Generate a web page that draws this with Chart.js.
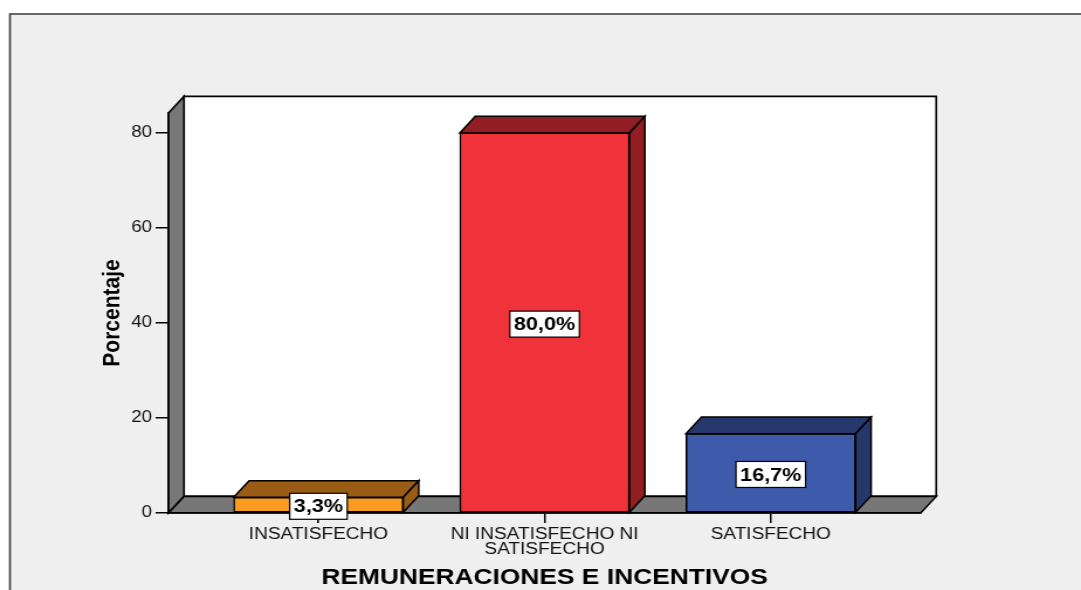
<!DOCTYPE html>
<html lang="es">
<head>
    <meta charset="UTF-8">
    <title>Remuneraciones e incentivos</title>
    <script src="https://cdn.jsdelivr.net/npm/chart.js"></script>
    <style>
        html, body { margin: 0; padding: 0; background: #fff; overflow: hidden; }
        /* the original picture is stretched horizontally, so the chart is too */
        #wrap { width: 924px; height: 590px; transform: scaleX(1.16991); transform-origin: 0 0; }
        canvas { display: block; }
    </style>
</head>
<body>
    <div id="wrap">
        <canvas id="chart" width="924" height="590"></canvas>
    </div>

    <script>
        // Data
        const categories = [['INSATISFECHO'], ['NI INSATISFECHO NI', 'SATISFECHO'], ['SATISFECHO']];
        const percentages = [3.3, 80.0, 16.7];
        const yTicks = [0, 20, 40, 60, 80];
        const yMax = 84.2;

        const frontColors = ['#F99B1E', '#F0333B', '#3E5AAA'];
        const sideColors = ['#9A5C14', '#911E23', '#26376B'];
        const DEPTH = { dx: 13.25, dy: -16.6 };
        const FONT = '"Liberation Sans", Arial, sans-serif';

        Chart.defaults.font.family = FONT;
        Chart.defaults.color = '#111';

        function polygon(ctx, pts, fill) {
            ctx.beginPath();
            ctx.moveTo(pts[0][0], pts[0][1]);
            for (let i = 1; i < pts.length; i++) ctx.lineTo(pts[i][0], pts[i][1]);
            ctx.closePath();
            ctx.fillStyle = fill;
            ctx.fill();
            ctx.stroke();
        }

        // frame, back wall, left wall and floor
        const walls = {
            id: 'walls',
            beforeDraw(chart) {
                const ctx = chart.ctx;
                const a = chart.chartArea;
                const { dx, dy } = DEPTH;
                ctx.save();
                ctx.fillStyle = '#fff';
                ctx.fillRect(0, 0, chart.width, chart.height);
                ctx.fillStyle = '#EFEFEF';
                ctx.fillRect(8.5, 14, chart.width, chart.height);
                ctx.strokeStyle = '#3a3a3a';
                ctx.lineWidth = 1.6;
                ctx.beginPath();
                ctx.moveTo(8.5, chart.height);
                ctx.lineTo(8.5, 14);
                ctx.lineTo(chart.width, 14);
                ctx.stroke();

                ctx.strokeStyle = '#000';
                ctx.lineWidth = 1.6;
                ctx.lineJoin = 'miter';
                polygon(ctx, [[a.left + dx, a.top + dy], [a.right + dx, a.top + dy],
                              [a.right + dx, a.bottom + dy], [a.left + dx, a.bottom + dy]], '#fff');
                polygon(ctx, [[a.left, a.top], [a.left + dx, a.top + dy],
                              [a.left + dx, a.bottom + dy], [a.left, a.bottom]], '#777777');
                polygon(ctx, [[a.left, a.bottom], [a.left + dx, a.bottom + dy],
                              [a.right + dx, a.bottom + dy], [a.right, a.bottom]], '#777777');
                ctx.restore();
            }
        };

        // bar tops, sides and value boxes
        const bars3d = {
            id: 'bars3d',
            afterDatasetsDraw(chart) {
                const ctx = chart.ctx;
                const { dx, dy } = DEPTH;
                const meta = chart.getDatasetMeta(0);
                ctx.save();
                ctx.strokeStyle = '#000';
                ctx.lineWidth = 1.5;
                ctx.lineJoin = 'miter';
                meta.data.forEach((bar, i) => {
                    const { x, y, base, width } = bar.getProps(['x', 'y', 'base', 'width'], true);
                    const l = x - width / 2, r = x + width / 2;
                    polygon(ctx, [[l, y], [l + dx, y + dy], [r + dx, y + dy], [r, y]], sideColors[i]);
                    polygon(ctx, [[r, y], [r + dx, y + dy], [r + dx, base + dy], [r, base]], sideColors[i]);
                });

                ctx.font = 'bold 18.5px ' + FONT;
                ctx.textAlign = 'center';
                ctx.textBaseline = 'middle';
                meta.data.forEach((bar, i) => {
                    const { x, y, base } = bar.getProps(['x', 'y', 'base'], true);
                    const text = percentages[i].toFixed(1).replace('.', ',') + '%';
                    const cy = (y + base) / 2 + 1.5;
                    const w = ctx.measureText(text).width + 7;
                    const h = 26;
                    ctx.fillStyle = '#fff';
                    ctx.fillRect(x - w / 2, cy - h / 2, w, h);
                    ctx.lineWidth = 1.2;
                    ctx.strokeRect(x - w / 2, cy - h / 2, w, h);
                    ctx.fillStyle = '#000';
                    ctx.fillText(text, x, cy + 1);
                });
                ctx.restore();
            }
        };

        new Chart(document.getElementById('chart'), {
            type: 'bar',
            data: {
                datasets: [{
                    data: percentages.map((v, i) => ({ x: i, y: v })),
                    backgroundColor: frontColors,
                    borderColor: '#000',
                    borderWidth: 1.5,
                    borderSkipped: false,
                    barThickness: 145
                }]
            },
            options: {
                responsive: false,
                animation: false,
                devicePixelRatio: 1,
                layout: { padding: { left: 0, top: 113, right: 137, bottom: 0 } },
                plugins: { legend: { display: false }, tooltip: { enabled: false } },
                scales: {
                    x: {
                        type: 'linear',
                        offset: false,
                        min: -0.663,
                        max: 2.663,
                        afterBuildTicks: (scale) => { scale.ticks = categories.map((_, i) => ({ value: i })); },
                        afterFit: (scale) => { scale.height = 77; },
                        ticks: {
                            callback: (v) => categories[v],
                            font: { size: 16.3, lineHeight: 0.94 },
                            padding: 4,
                            maxRotation: 0,
                            autoSkip: false,
                            color: '#111'
                        },
                        grid: { offset: false, drawOnChartArea: false, drawTicks: true, tickLength: 10, color: '#000', lineWidth: 1.5 },
                        border: { display: true, color: '#000', width: 1.5 },
                        title: {
                            display: true,
                            text: 'REMUNERACIONES E INCENTIVOS',
                            font: { size: 22.5, weight: 'bold', lineHeight: 1 },
                            padding: { top: 0, bottom: 1 },
                            color: '#000'
                        }
                    },
                    y: {
                        min: 0,
                        max: yMax,
                        afterBuildTicks: (scale) => { scale.ticks = yTicks.map(v => ({ value: v })); },
                        afterFit: (scale) => { scale.width = 144; },
                        ticks: { font: { size: 16 }, padding: 3, color: '#111' },
                        grid: { drawOnChartArea: false, drawTicks: true, tickLength: 11, color: '#000', lineWidth: 1.5 },
                        border: { display: true, color: '#000', width: 1.5 },
                        title: {
                            display: true,
                            text: 'Porcentaje',
                            font: { size: 21, weight: 'bold', lineHeight: 1.2 },
                            padding: { top: 83.8, bottom: 0 },
                            color: '#000'
                        }
                    }
                }
            },
            plugins: [walls, bars3d]
        });
    </script>
</body>
</html>
